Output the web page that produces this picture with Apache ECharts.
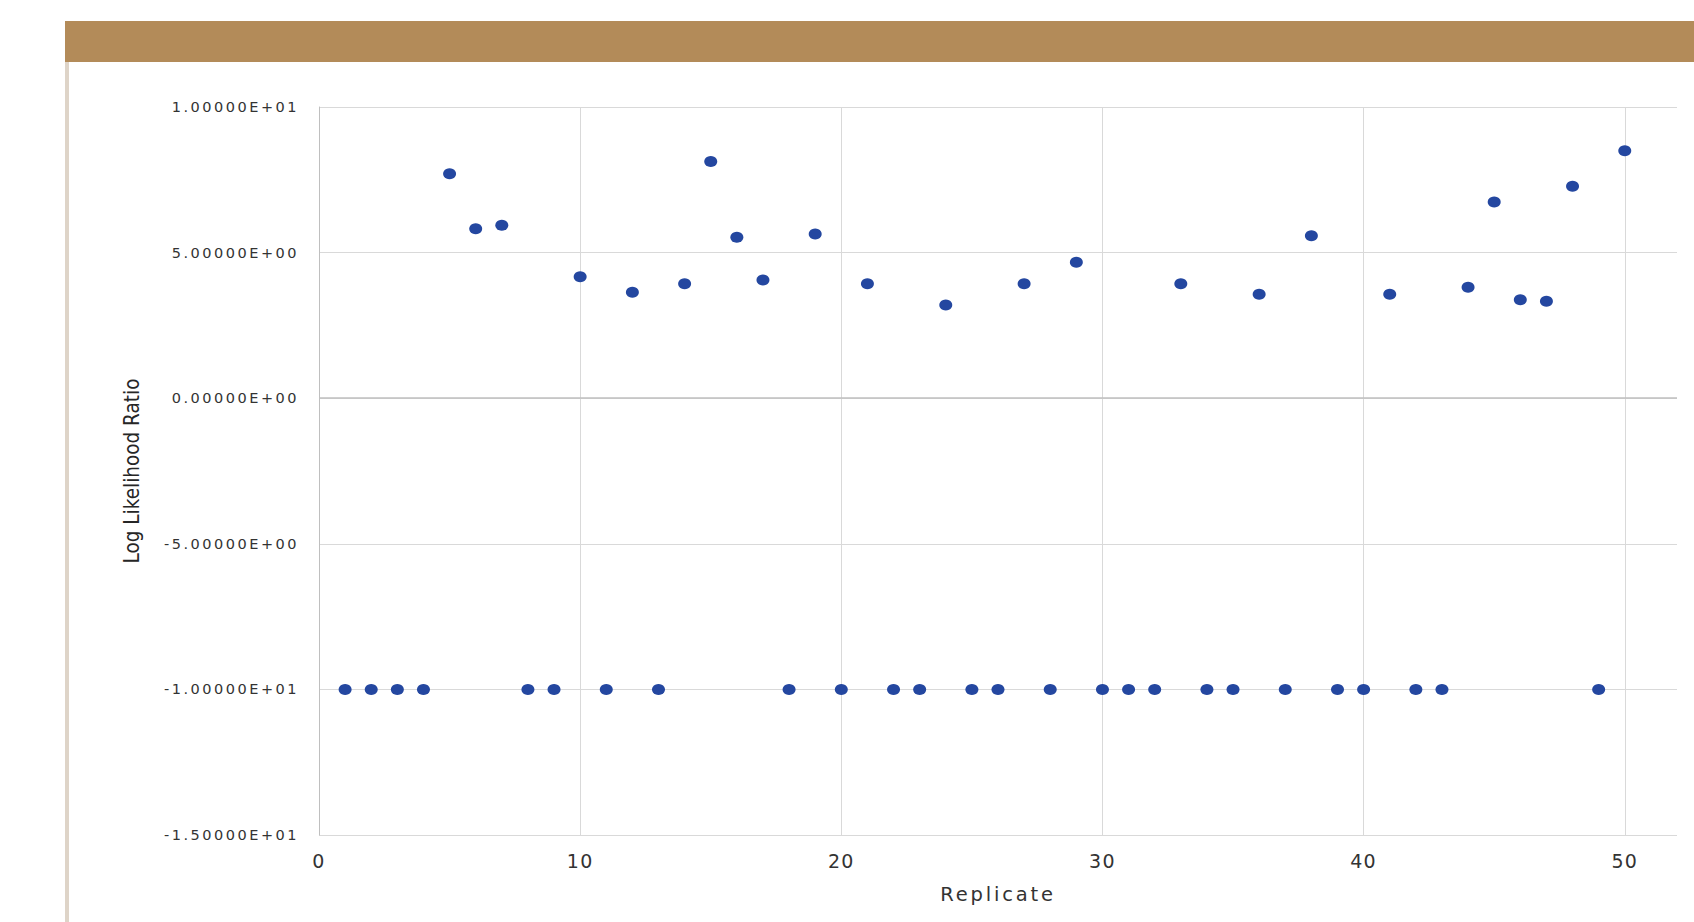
<!DOCTYPE html>
<html>
<head>
<meta charset="utf-8">
<script src="https://cdn.jsdelivr.net/npm/echarts@6/dist/echarts.min.js"></script>
<style>
  html, body { margin: 0; padding: 0; background: #ffffff; }
  #chart { width: 1694px; height: 922px; }
  #chart text[style*="14.5px"] { letter-spacing: 2.5px; }
  #chart text[style*="19px"] { letter-spacing: 1.3px; }
  #chart text[style*="19.5px"] { letter-spacing: 2.8px; }
</style>
</head>
<body>
<div id="chart"></div>
<script>
// ---- data ----
const replicates = [1,2,3,4,5,6,7,8,9,10,11,12,13,14,15,16,17,18,19,20,21,22,23,24,25,26,27,28,29,30,31,32,33,34,35,36,37,38,39,40,41,42,43,44,45,46,47,48,49,50];
const logLikelihoodRatio = [
  -10, -10, -10, -10, 7.71, 5.82, 5.94, -10, -10, 4.17,
  -10, 3.64, -10, 3.93, 8.13, 5.53, 4.06, -10, 5.64, -10,
  3.93, -10, -10, 3.20, -10, -10, 3.93, -10, 4.67, -10,
  -10, -10, 3.93, -10, -10, 3.57, -10, 5.58, -10, -10,
  3.57, -10, -10, 3.81, 6.74, 3.38, 3.33, 7.28, -10, 8.50
];
const xTicks = [0, 10, 20, 30, 40, 50];
const yTicks = [-15, -10, -5, 0, 5, 10];
const yTickLabels = ['-1.50000E+01', '-1.00000E+01', '-5.00000E+00', '0.00000E+00', '5.00000E+00', '1.00000E+01'];
const xAxisTitle = 'Replicate';
const yAxisTitle = 'Log Likelihood Ratio';

const points = replicates.map((r, i) => [r, logLikelihoodRatio[i]]);

const chart = echarts.init(document.getElementById('chart'), null, { renderer: 'svg', width: 1694, height: 922 });

const option = {
  animation: false,
  backgroundColor: '#ffffff',
  graphic: [
    { type: 'rect', left: 65, top: 21, shape: { width: 1629, height: 41 }, style: { fill: '#b38b59' }, silent: true },
    { type: 'rect', left: 65, top: 62, shape: { width: 4, height: 860 }, style: { fill: '#ded4c8' }, silent: true }
  ],
  grid: { left: 319, right: 17, top: 107, bottom: 87, containLabel: false },
  xAxis: {
    type: 'value',
    min: 0, max: 52, interval: 10,
    axisLine: { show: false },
    axisTick: { show: false },
    splitLine: { show: false },
    axisLabel: {
      margin: 16, fontSize: 19, fontFamily: 'DejaVu Sans', color: '#333333',
      formatter: v => (xTicks.indexOf(v) >= 0 ? String(v) : '')
    },
    name: xAxisTitle, nameLocation: 'middle', nameGap: 49,
    nameTextStyle: { fontSize: 19.5, fontFamily: 'DejaVu Sans', color: '#333333' }
  },
  yAxis: {
    type: 'value',
    min: -15, max: 10, interval: 5,
    axisLine: { show: true, lineStyle: { color: '#bfbfbf', width: 1 } },
    axisTick: { show: false },
    splitLine: { show: true, lineStyle: { color: '#d9d9d9', width: 1 } },
    axisLabel: {
      margin: 20, fontSize: 14.5, fontFamily: 'DejaVu Sans', color: '#333333',
      formatter: v => { const k = yTicks.indexOf(v); return k >= 0 ? yTickLabels[k] : ''; }
    },
    name: yAxisTitle, nameLocation: 'middle', nameGap: 177, nameRotate: 90,
    nameTextStyle: { fontSize: 20.5, fontFamily: '"DejaVu Sans Condensed", "Liberation Sans Narrow", sans-serif', color: '#262626' }
  },
  series: [
    {
      type: 'scatter',
      data: [],
      silent: true,
      markLine: {
        silent: true,
        symbol: ['none', 'none'],
        label: { show: false },
        animation: false,
        data: xTicks.filter(t => t > 0).map(t => ({ xAxis: t, lineStyle: { color: '#d9d9d9', width: 1, type: 'solid' } }))
          .concat([{ yAxis: 0, lineStyle: { color: '#bfbfbf', width: 1.6, type: 'solid' } }])
      }
    },
    {
      type: 'scatter',
      z: 10,
      data: points,
      symbol: 'circle',
      symbolSize: [13, 11],
      itemStyle: { color: '#2447a0', opacity: 1 }
    }
  ]
};
chart.setOption(option);
</script>
</body>
</html>
